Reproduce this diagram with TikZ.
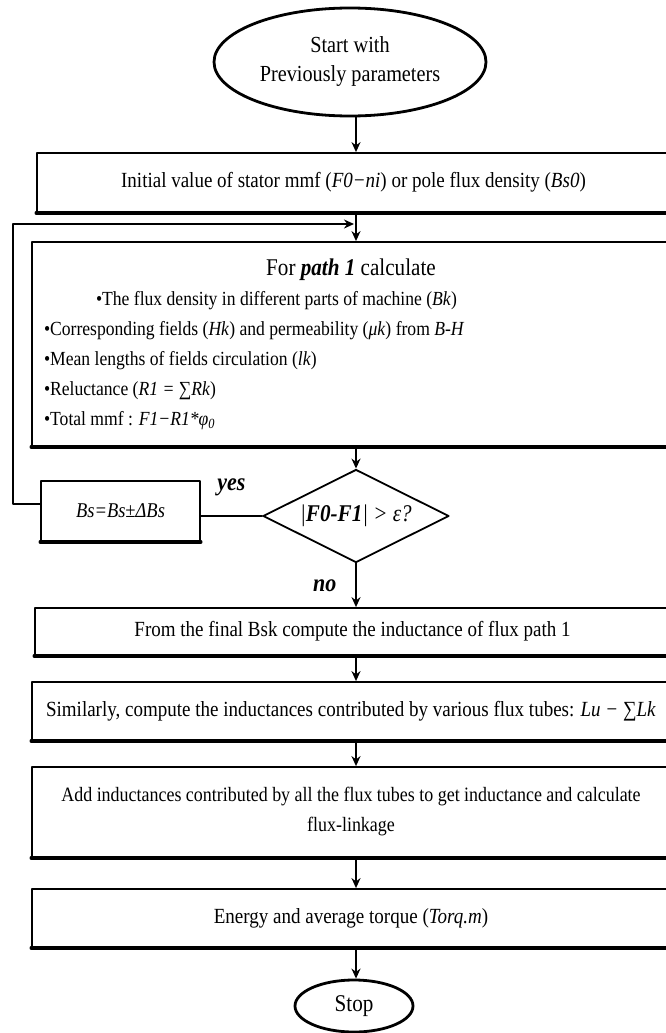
\documentclass[tikz,border=0pt]{standalone}
\usepackage{fontspec}
\setmainfont{Liberation Serif}[FakeStretch=0.88]
\usetikzlibrary{shapes.geometric,arrows.meta}
\begin{document}
\begin{tikzpicture}[font=\fontsize{10.8}{15}\selectfont, line join=round, line cap=round, >={Stealth[length=5pt,width=4.5pt]}, x=0.5pt, y=-0.5pt,
	box/.style={draw, line width=0.9pt, inner sep=0pt, minimum width=316.5pt, minimum height=#1},
	term/.style={ellipse, draw, line width=1.4pt, inner sep=0pt},
	link/.style={line width=1pt},
	tag/.style={font=\fontsize{12.5}{14}\bfseries\itshape}]
	\useasboundingbox (0,0) rectangle (665,1033);
	\node[term, minimum width=136pt, minimum height=54pt, align=center, font=\fontsize{11.5}{14.5}\selectfont] (start) at (350,62) {Start with\\Previously parameters};
	\node[box=29.5pt] (init) at (353.5,182.5) {Initial value of stator mmf (\textit{F0−ni}) or pole flux density (\textit{Bs0})};
	\node[box=102pt, minimum width=319pt, text width=307pt, inner xsep=6pt, align=flush left, font=\fontsize{10}{15}\selectfont] (path) at (351,344) {\makebox[\linewidth][c]{\fontsize{12}{15}\selectfont For \textbf{\textit{path 1}} calculate}\\
		\hspace*{26pt}•The flux density in different parts of machine (\textit{Bk})\\
		•Corresponding fields (\textit{Hk}) and permeability (\textit{μk}) from \textit{B-H}\\
		•Mean lengths of fields circulation (\textit{lk})\\
		•Reluctance (\textit{R1 = ∑Rk})\\
		•Total mmf : \textit{F1−R1*φ}\textsubscript{\textit{0}}};
	\node[diamond, draw, line width=0.9pt, aspect=2, minimum width=93pt, minimum height=46.5pt, inner sep=0pt, font=\fontsize{12}{14}\selectfont] (check) at (356,516) {\textit{|\textbf{F0-F1}| > ε?}};
	\node[draw, line width=0.9pt, minimum width=79.5pt, minimum height=30pt, font=\fontsize{10.5}{14}\selectfont] (update) at (120.5,511) {\textit{Bs=Bs±ΔBs}};
	\node[box=23.5pt, minimum width=317.5pt] (final) at (352.5,631.5) {From the final Bsk compute the inductance of flux path 1};
	\node[box=29pt, minimum width=319pt] (similar) at (351,711) {Similarly, compute the inductances contributed by various flux tubes: \textit{Lu − ∑Lk}};
	\node[box=45pt, minimum width=319pt, align=center, font=\fontsize{10.2}{15}\selectfont] (add) at (351,812) {Add inductances contributed by all the flux tubes to get inductance and calculate\\flux-linkage};
	\node[box=29pt, minimum width=319pt] (energy) at (351,918) {Energy and average torque (\textit{Torq.m})};
	\node[term, minimum width=59pt, minimum height=26pt, font=\fontsize{12}{14}\selectfont] (stop) at (354,1006) {Stop};
	\coordinate (back) at (354,224);
	\foreach \n in {init,path,update,final,similar,add,energy} \draw[line width=1.6pt] (\n.south west) -- (\n.south east);
	\draw[link,->] (start.south -| check) -- (init.north -| check);
	\draw[link,->] (init.south -| check) -- (path.north -| check);
	\draw[link,->] ([yshift=3.5pt]update.west) -- ++(-27,0) |- (back);
	\draw[link,->] (path.south -| check) -- (check.north);
	\draw[link] (check.west) -- node[tag, above=6pt] {yes} (check.west -| update.east);
	\draw[link,->] (check.south) -- node[tag, left=6pt] {no} (final.north -| check);
	\draw[link,->] (final.south -| check) -- (similar.north -| check);
	\draw[link,->] (similar.south -| check) -- (add.north -| check);
	\draw[link,->] (add.south -| check) -- (energy.north -| check);
	\draw[link,->] (energy.south -| check) -- (stop.north -| check);
\end{tikzpicture}
\end{document}
